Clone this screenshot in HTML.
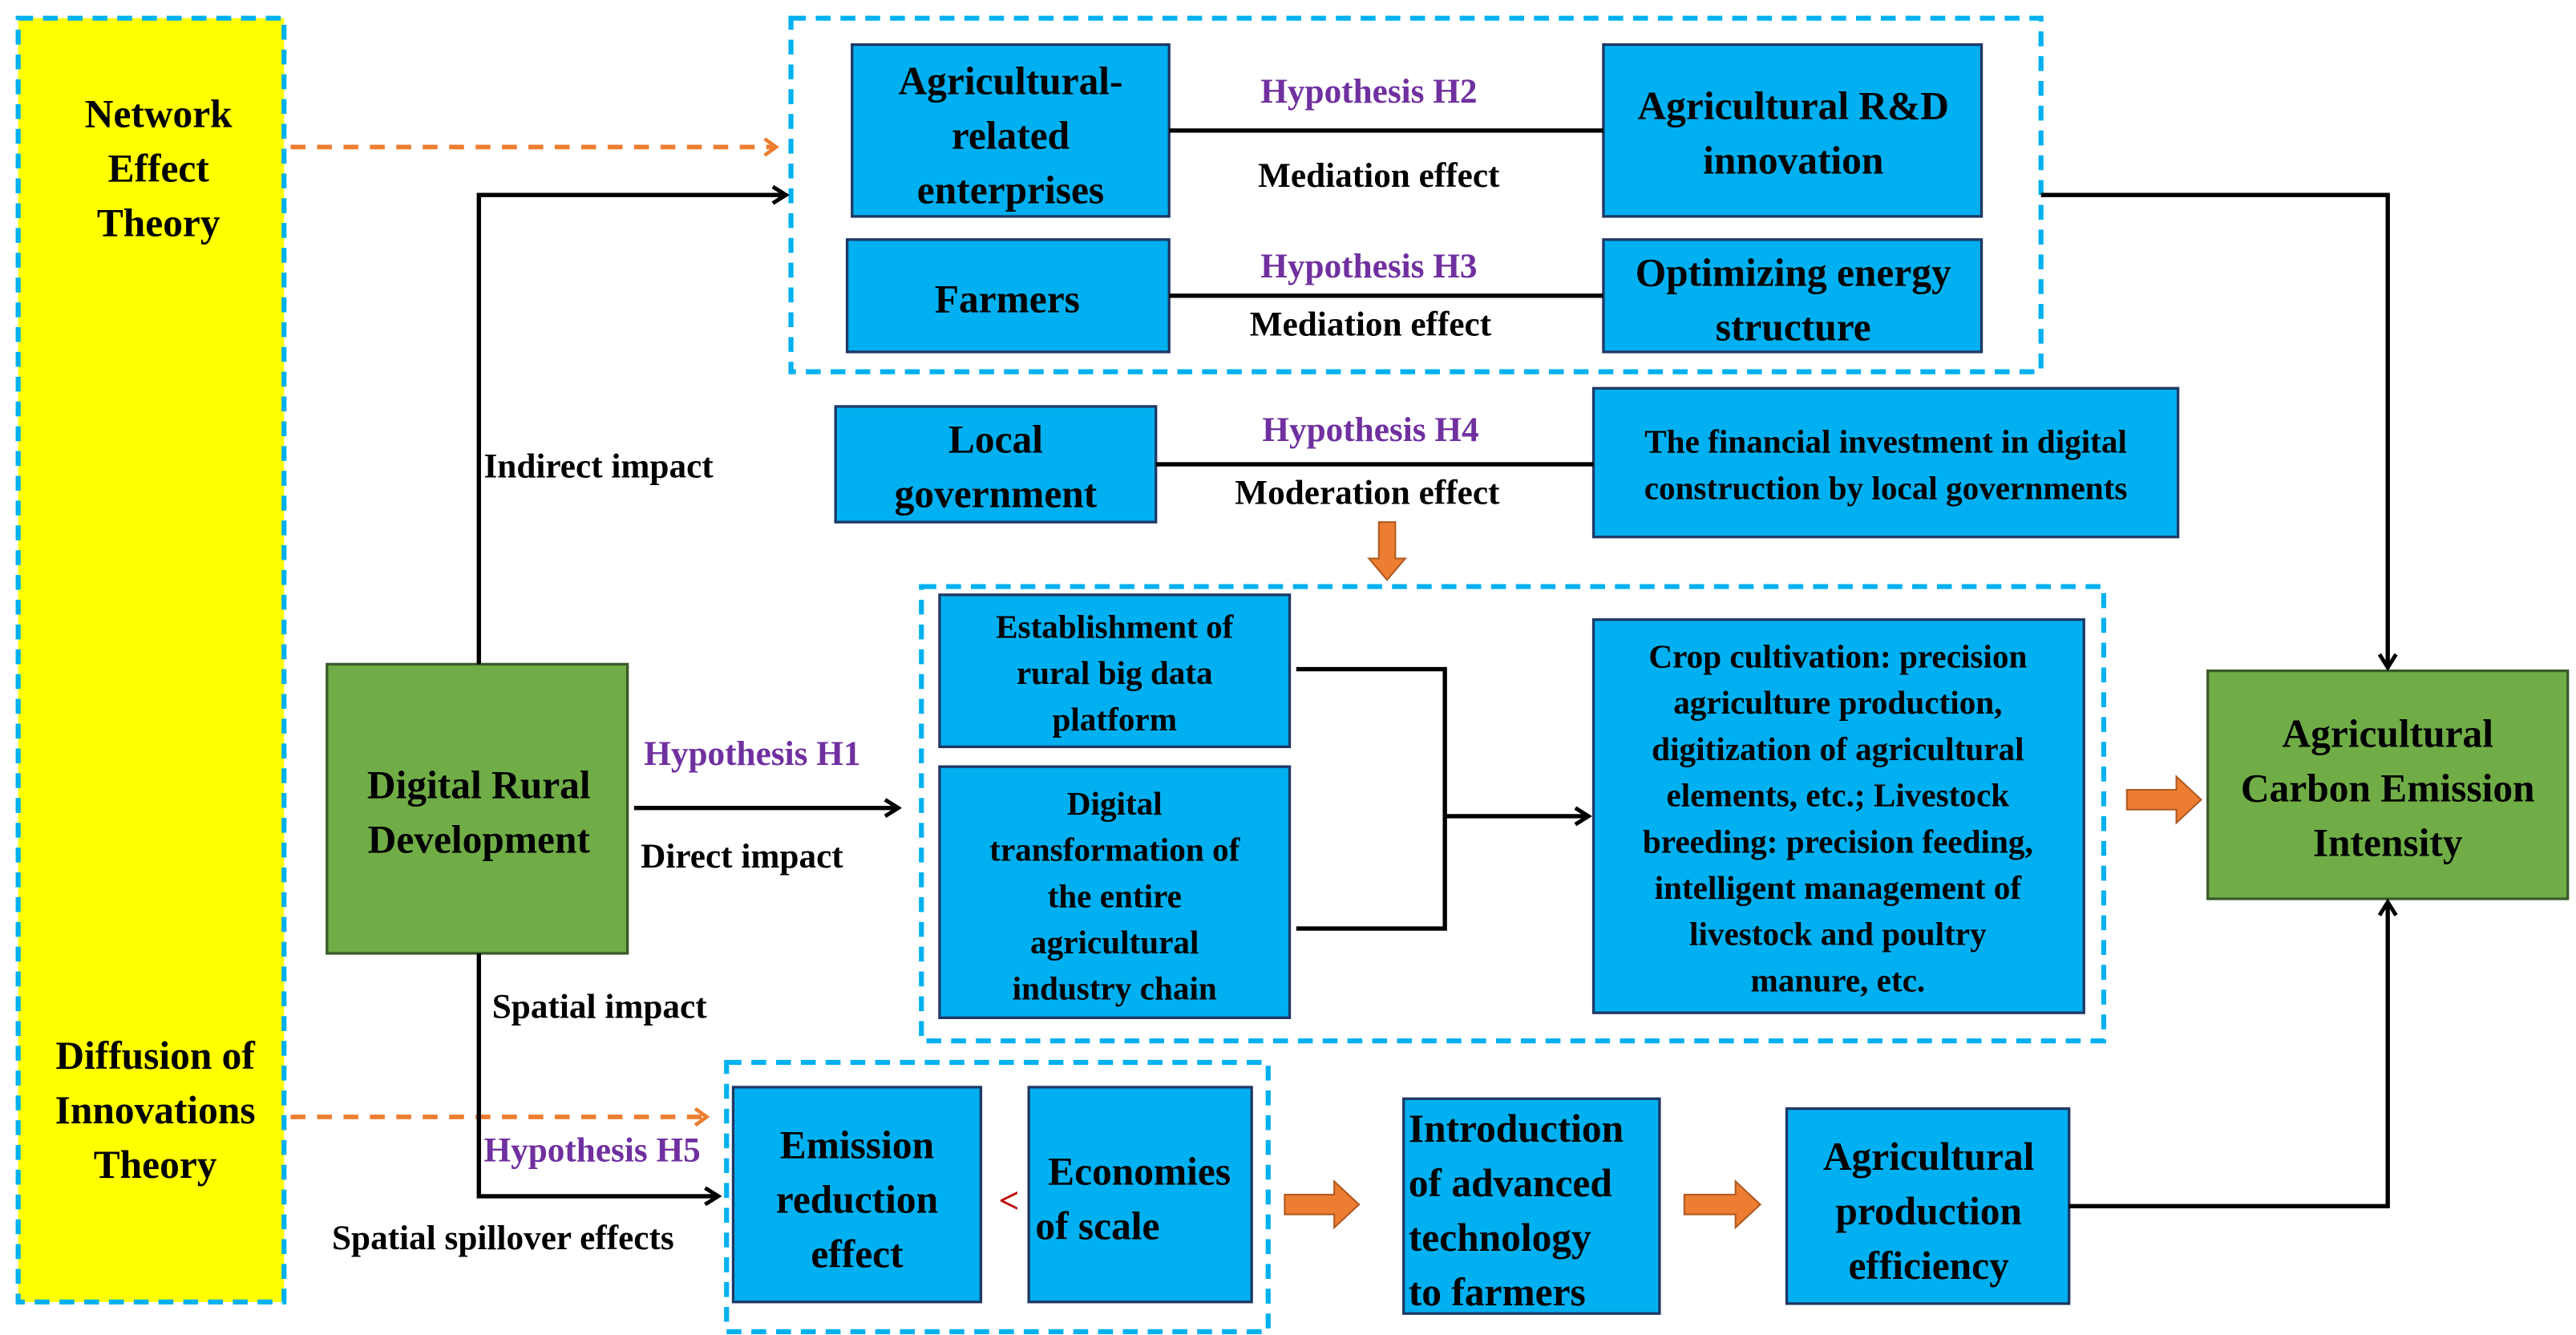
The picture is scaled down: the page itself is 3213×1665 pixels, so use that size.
<!DOCTYPE html>
<html><head><meta charset="utf-8"><style>
html,body{margin:0;padding:0;background:#fff;}
svg{display:block;font-family:"Liberation Serif","Times New Roman","DejaVu Serif",serif;}
text{font-family:"Liberation Serif","Times New Roman","DejaVu Serif",serif;font-weight:bold;fill:#000;}
.b{fill:#00b0f0;stroke:#1f3864;stroke-width:1.6;}
.g{fill:#70ad47;stroke:#3a5a2a;stroke-width:1.6;}
.d{fill:none;stroke:#00b0f0;stroke-width:3;stroke-dasharray:9,6;}
.l{fill:none;stroke:#000;stroke-width:2.6;}
.p{fill:#7030a0;}
.o{fill:#ed7d31;stroke:#ae5a21;stroke-width:1;}
</style></head><body>
<svg width="3213" height="1665" viewBox="0 0 1560 808" preserveAspectRatio="none" xmlns="http://www.w3.org/2000/svg" font-family="Liberation Serif, Times New Roman, serif" font-weight="bold">
<defs>
<marker id="ah" markerWidth="12" markerHeight="12" refX="10" refY="6" orient="auto" markerUnits="userSpaceOnUse">
<path d="M2,1 L10,6 L2,11" fill="none" stroke="#000" stroke-width="2.4"/></marker>
<marker id="ao" markerWidth="12" markerHeight="12" refX="10" refY="6" orient="auto" markerUnits="userSpaceOnUse">
<path d="M3,1 L10,6 L3,11" fill="none" stroke="#ed7d31" stroke-width="2.2"/></marker>
</defs>
<rect x="11" y="11" width="161" height="777" fill="#ffff00"/>
<rect x="11" y="11" width="161" height="777" class="d"/>
<g font-size="24" text-anchor="middle">
<text x="96" y="77">Network</text><text x="96" y="110">Effect</text><text x="96" y="143">Theory</text>
<text x="94" y="647">Diffusion of</text><text x="94" y="680">Innovations</text><text x="94" y="713">Theory</text>
</g>
<line x1="176" y1="89" x2="470" y2="89" stroke="#ed7d31" stroke-width="2.8" stroke-dasharray="9,7" marker-end="url(#ao)"/>
<line x1="176" y1="676" x2="428" y2="676" stroke="#ed7d31" stroke-width="2.8" stroke-dasharray="9,7" marker-end="url(#ao)"/>
<rect x="479" y="11" width="757" height="214" class="d"/>
<rect x="558" y="355" width="716" height="275" class="d"/>
<rect x="440" y="643" width="328" height="163" class="d"/>
<rect x="516" y="27" width="192" height="104" class="b"/>
<rect x="971" y="27" width="229" height="104" class="b"/>
<rect x="513" y="145" width="195" height="68" class="b"/>
<rect x="971" y="145" width="229" height="68" class="b"/>
<rect x="506" y="246" width="194" height="70" class="b"/>
<rect x="965" y="235" width="354" height="90" class="b"/>
<g font-size="24" text-anchor="middle">
<text x="612" y="57">Agricultural-</text><text x="612" y="90">related</text><text x="612" y="123">enterprises</text>
<text x="1086" y="72">Agricultural R&amp;D</text><text x="1086" y="105">innovation</text>
<text x="610" y="189">Farmers</text>
<text x="1086" y="173">Optimizing energy</text><text x="1086" y="206">structure</text>
<text x="603" y="274">Local</text><text x="603" y="307">government</text>
</g>
<g font-size="20" text-anchor="middle">
<text x="1142" y="274">The financial investment in digital</text>
<text x="1142" y="302">construction by local governments</text>
</g>
<line x1="708" y1="79" x2="971" y2="79" class="l"/>
<line x1="708" y1="179" x2="971" y2="179" class="l"/>
<line x1="700" y1="281" x2="965" y2="281" class="l"/>
<g font-size="21" text-anchor="middle">
<text x="829" y="62" class="p">Hypothesis H2</text><text x="835" y="113">Mediation effect</text>
<text x="829" y="168" class="p">Hypothesis H3</text><text x="830" y="203">Mediation effect</text>
<text x="830" y="267" class="p">Hypothesis H4</text><text x="828" y="305">Moderation effect</text>
</g>
<path d="M835,316 h10 v22 h6 l-11,13 l-11,-13 h6 z" class="o"/>
<rect x="569" y="360" width="212" height="92" class="b"/>
<rect x="569" y="464" width="212" height="152" class="b"/>
<rect x="965" y="375" width="297" height="238" class="b"/>
<g font-size="20" text-anchor="middle">
<text x="675" y="386">Establishment of</text><text x="675" y="414">rural big data</text><text x="675" y="442">platform</text>
<text x="675" y="493">Digital</text><text x="675" y="521">transformation of</text><text x="675" y="549">the entire</text><text x="675" y="577">agricultural</text><text x="675" y="605">industry chain</text>
<text x="1113" y="404">Crop cultivation: precision</text><text x="1113" y="432">agriculture production,</text><text x="1113" y="460">digitization of agricultural</text><text x="1113" y="488">elements, etc.; Livestock</text><text x="1113" y="516">breeding: precision feeding,</text><text x="1113" y="544">intelligent management of</text><text x="1113" y="572">livestock and poultry</text><text x="1113" y="600">manure, etc.</text>
</g>
<path d="M785,405 H875 V562 H785" class="l"/>
<line x1="875" y1="494" x2="962" y2="494" class="l" marker-end="url(#ah)"/>
<path d="M1288,478 h30 v-8 l15,14 l-15,14 v-8 h-30 z" class="o"/>
<rect x="1337" y="406" width="218" height="138" class="g"/>
<rect x="198" y="402" width="182" height="175" class="g"/>
<g font-size="24" text-anchor="middle">
<text x="1446" y="452">Agricultural</text><text x="1446" y="485">Carbon Emission</text><text x="1446" y="518">Intensity</text>
<text x="290" y="483">Digital Rural</text><text x="290" y="516">Development</text>
</g>
<path d="M290,402 V118 H476" class="l" marker-end="url(#ah)"/>
<path d="M290,577 V724 H435" class="l" marker-end="url(#ah)"/>
<line x1="384" y1="489" x2="544" y2="489" class="l" marker-end="url(#ah)"/>
<g font-size="21">
<text x="293" y="289">Indirect impact</text>
<text x="390" y="463" class="p">Hypothesis H1</text>
<text x="388" y="525">Direct impact</text>
<text x="298" y="616">Spatial impact</text>
<text x="293" y="703" class="p">Hypothesis H5</text>
<text x="201" y="756">Spatial spillover effects</text>
</g>
<rect x="444" y="658" width="150" height="130" class="b"/>
<rect x="623" y="658" width="135" height="130" class="b"/>
<rect x="850" y="665" width="155" height="130" class="b"/>
<rect x="1082" y="671" width="171" height="118" class="b"/>
<g font-size="24">
<text x="519" y="701" text-anchor="middle">Emission</text><text x="519" y="734" text-anchor="middle">reduction</text><text x="519" y="767" text-anchor="middle">effect</text>
<text x="690" y="717" text-anchor="middle">Economies</text><text x="627" y="750">of scale</text>
<text x="853" y="691">Introduction</text><text x="853" y="724">of  advanced</text><text x="853" y="757">technology</text><text x="853" y="790">to farmers</text>
<text x="1168" y="708" text-anchor="middle">Agricultural</text><text x="1168" y="741" text-anchor="middle">production</text><text x="1168" y="774" text-anchor="middle">efficiency</text>
</g>
<text x="611" y="734" font-size="22" text-anchor="middle" style="fill:#c00000">&lt;</text>
<path d="M778,723 h30 v-8 l15,14 l-15,14 v-8 h-30 z" class="o"/>
<path d="M1020,723 h31 v-8 l15,14 l-15,14 v-8 h-31 z" class="o"/>
<path d="M1253,730 H1446 V546" class="l" marker-end="url(#ah)"/>
<path d="M1236,118 H1446 V404" class="l" marker-end="url(#ah)"/>
</svg>
</body></html>
